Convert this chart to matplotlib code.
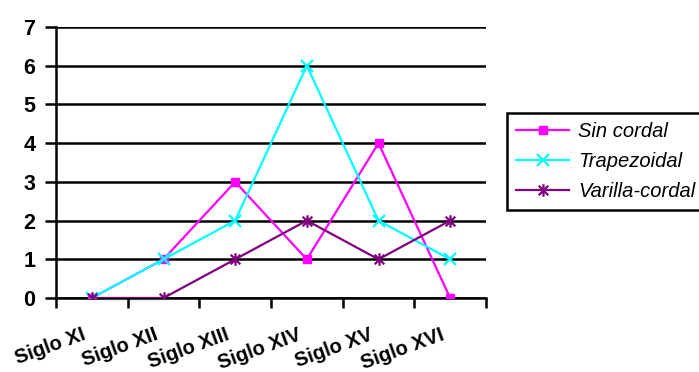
import matplotlib
matplotlib.use('Agg')
import matplotlib.pyplot as plt
import matplotlib.transforms as mtransforms
from matplotlib.path import Path
import numpy as np

categories = ['Siglo XI', 'Siglo XII', 'Siglo XIII', 'Siglo XIV', 'Siglo XV', 'Siglo XVI']
sin_cordal = [0, 1, 3, 1, 4, 0]
trapezoidal = [0, 1, 2, 6, 2, 1]
varilla_cordal = [0, 0, 1, 2, 1, 2]

plt.rcParams['font.family'] = ['Liberation Sans', 'DejaVu Sans']

# asterisk marker: an x with a vertical stroke through it
asterisk = Path([(-1, -1), (1, 1), (-1, 1), (1, -1), (0, -1.3), (0, 1.3)],
                [Path.MOVETO, Path.LINETO, Path.MOVETO, Path.LINETO, Path.MOVETO, Path.LINETO])

fig = plt.figure(figsize=(6.99, 3.72), dpi=100)
ax = fig.add_axes([56 / 699, 1 - 298 / 372, 430 / 699, 271 / 372])

x = np.arange(len(categories))
ax.plot(x, sin_cordal, color='#FF00FF', lw=1.6, marker='s', ms=6, label='Sin cordal', zorder=3)
ax.plot(x, trapezoidal, color='#00FFFF', lw=1.6, marker='x', ms=9, mew=1.6, label='Trapezoidal', zorder=3)
ax.plot(x, varilla_cordal, color='#800080', lw=1.6, marker=asterisk, ms=9, mew=1.6,
        label='Varilla-cordal', zorder=3)

ax.set_xlim(-0.5, len(categories) - 0.5)
ax.set_ylim(0, 7)
ax.set_yticks(range(8))
ax.set_yticklabels([str(i) for i in range(8)], fontweight='bold', fontsize=15.5)
ax.yaxis.grid(True, color='black', lw=1.8)
ax.set_axisbelow(True)

# category boundaries get the ticks, labels sit under the centres
ax.set_xticks(np.arange(-0.5, len(categories)))
ax.set_xticklabels([])
ax.tick_params(axis='x', length=7, width=1.8, direction='out')
ax.tick_params(axis='y', length=8, width=1.8, pad=7)

lab_trans = ax.get_xaxis_transform() + mtransforms.ScaledTranslation(-10 / 100, -27 / 100,
                                                                       fig.dpi_scale_trans)
for xi, name in zip(x, categories):
    ax.text(xi, 0, name, transform=lab_trans, rotation=20, rotation_mode='anchor',
            ha='right', va='top', fontweight='bold', fontsize=14.5, clip_on=False)

for s in ['top', 'right']:
    ax.spines[s].set_visible(False)
for s in ['left', 'bottom']:
    ax.spines[s].set_linewidth(1.8)
    ax.spines[s].set_color('black')

leg = ax.legend(loc='upper left', bbox_to_anchor=(507 / 699, 1 - 113 / 372),
                bbox_transform=fig.transFigure, prop={'style': 'italic', 'size': 14.5},
                fancybox=False, edgecolor='black', framealpha=1, borderaxespad=0,
                handlelength=2.65, labelspacing=0.55, borderpad=0.45, handletextpad=0.45)
leg.get_frame().set_linewidth(1.8)

fig.savefig('out.png', dpi=100)
